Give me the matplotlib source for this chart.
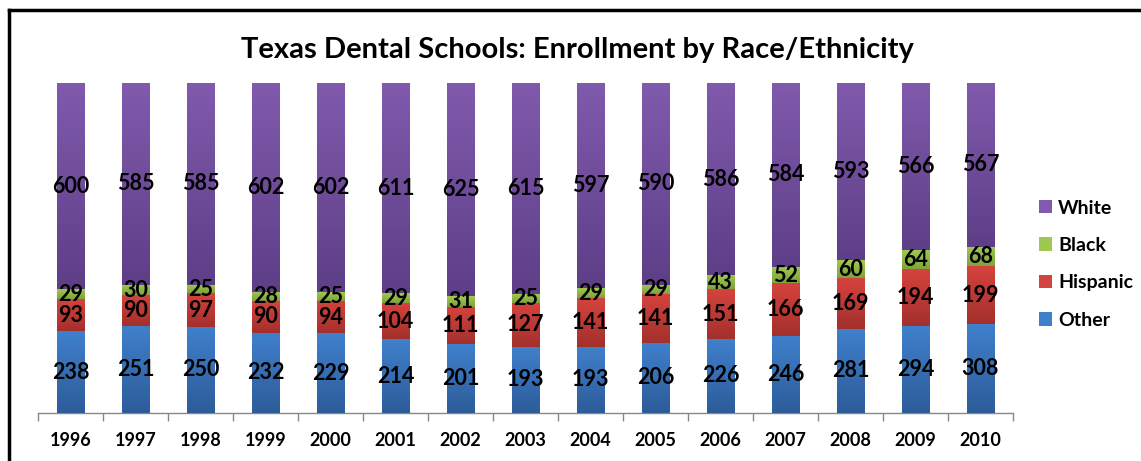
import matplotlib
matplotlib.use("Agg")
import matplotlib.pyplot as plt
import numpy as np
from matplotlib.lines import Line2D
from matplotlib.patches import Patch
from matplotlib.colors import LinearSegmentedColormap

years = ["1996", "1997", "1998", "1999", "2000", "2001", "2002", "2003",
         "2004", "2005", "2006", "2007", "2008", "2009", "2010"]
other = [238, 251, 250, 232, 229, 214, 201, 193, 193, 206, 226, 246, 281, 294, 308]
hispanic = [93, 90, 97, 90, 94, 104, 111, 127, 141, 141, 151, 166, 169, 194, 199]
black = [29, 30, 25, 28, 25, 29, 31, 25, 29, 29, 43, 52, 60, 64, 68]
white = [600, 585, 585, 602, 602, 611, 625, 615, 597, 590, 586, 584, 593, 566, 567]

series = [("Other", other), ("Hispanic", hispanic), ("Black", black), ("White", white)]
colors = {
    "Other": ("#3F80CC", "#2D5C99"),
    "Hispanic": ("#D5433D", "#A3302C"),
    "Black": ("#A0C851", "#7EA43A"),
    "White": ("#805AAD", "#5E3F87"),
}

plt.rcParams['font.family'] = ['Lato', 'DejaVu Sans']

W, H = 1141, 461
fig = plt.figure(figsize=(W / 100, H / 100), dpi=100)
ax = fig.add_axes([38 / W, 48 / H, 975 / W, 330 / H])

x = np.arange(len(years))
totals = np.sum([np.array(v) for _, v in series], axis=0)
bottom = np.zeros(len(years))
bw = 0.42
for name, vals in series:
    frac = np.array(vals) / totals
    bars = ax.bar(x, frac, bw, bottom=bottom, color=colors[name][0], zorder=2)
    cmap = LinearSegmentedColormap.from_list(name, [colors[name][1], colors[name][0]])
    grad = np.linspace(0, 1, 64).reshape(-1, 1)
    for b, v, f, bt in zip(bars, vals, frac, bottom):
        x0, y0 = b.get_x(), b.get_y()
        ax.imshow(grad, cmap=cmap, origin='lower', aspect='auto',
                  extent=(x0, x0 + b.get_width(), y0, y0 + b.get_height()), zorder=3)
        ax.text(b.get_x() + b.get_width() / 2, bt + f / 2, str(v), ha='center', va='center',
                fontsize=15.5, fontweight='bold', color='black', zorder=5)
    bottom = bottom + frac

ax.set_xlim(-0.5, len(years) - 0.5)
ax.set_ylim(0, 1)
ax.set_xticks(x)
ax.set_xticklabels(years, fontsize=13, fontweight='bold')
ax.set_xticks(np.arange(-0.5, len(years), 1), minor=True)
ax.tick_params(axis='x', which='major', length=0, pad=14)
ax.tick_params(axis='x', which='minor', length=6, color='#888888', width=1)
ax.set_yticks([])
for s in ['top', 'right', 'left']:
    ax.spines[s].set_visible(False)
ax.spines['bottom'].set_color('#888888')
ax.spines['bottom'].set_linewidth(1)

fig.text(577 / W, 1 - 50 / H, "Texas Dental Schools: Enrollment by Race/Ethnicity",
         ha='center', va='center', fontsize=21, fontweight='bold')

handles = [Patch(facecolor=colors[n][0], edgecolor='none') for n, _ in reversed(series)]
labels = [n for n, _ in reversed(series)]
leg = fig.legend(handles, labels, loc='upper left', bbox_to_anchor=(1021 / W, 1 - 182 / H),
                 frameon=False, prop={'size': 14, 'weight': 'bold'},
                 handlelength=0.7, handleheight=0.7, handletextpad=0.3, labelspacing=1.05)

# partial black frame
fig.add_artist(Line2D([9 / W, 1], [1 - 10 / H, 1 - 10 / H], color='black', lw=2.5,
                      transform=fig.transFigure))
fig.add_artist(Line2D([9 / W, 9 / W], [0, 1 - 10 / H], color='black', lw=2.5,
                      transform=fig.transFigure))

fig.savefig("out.png", dpi=100)
